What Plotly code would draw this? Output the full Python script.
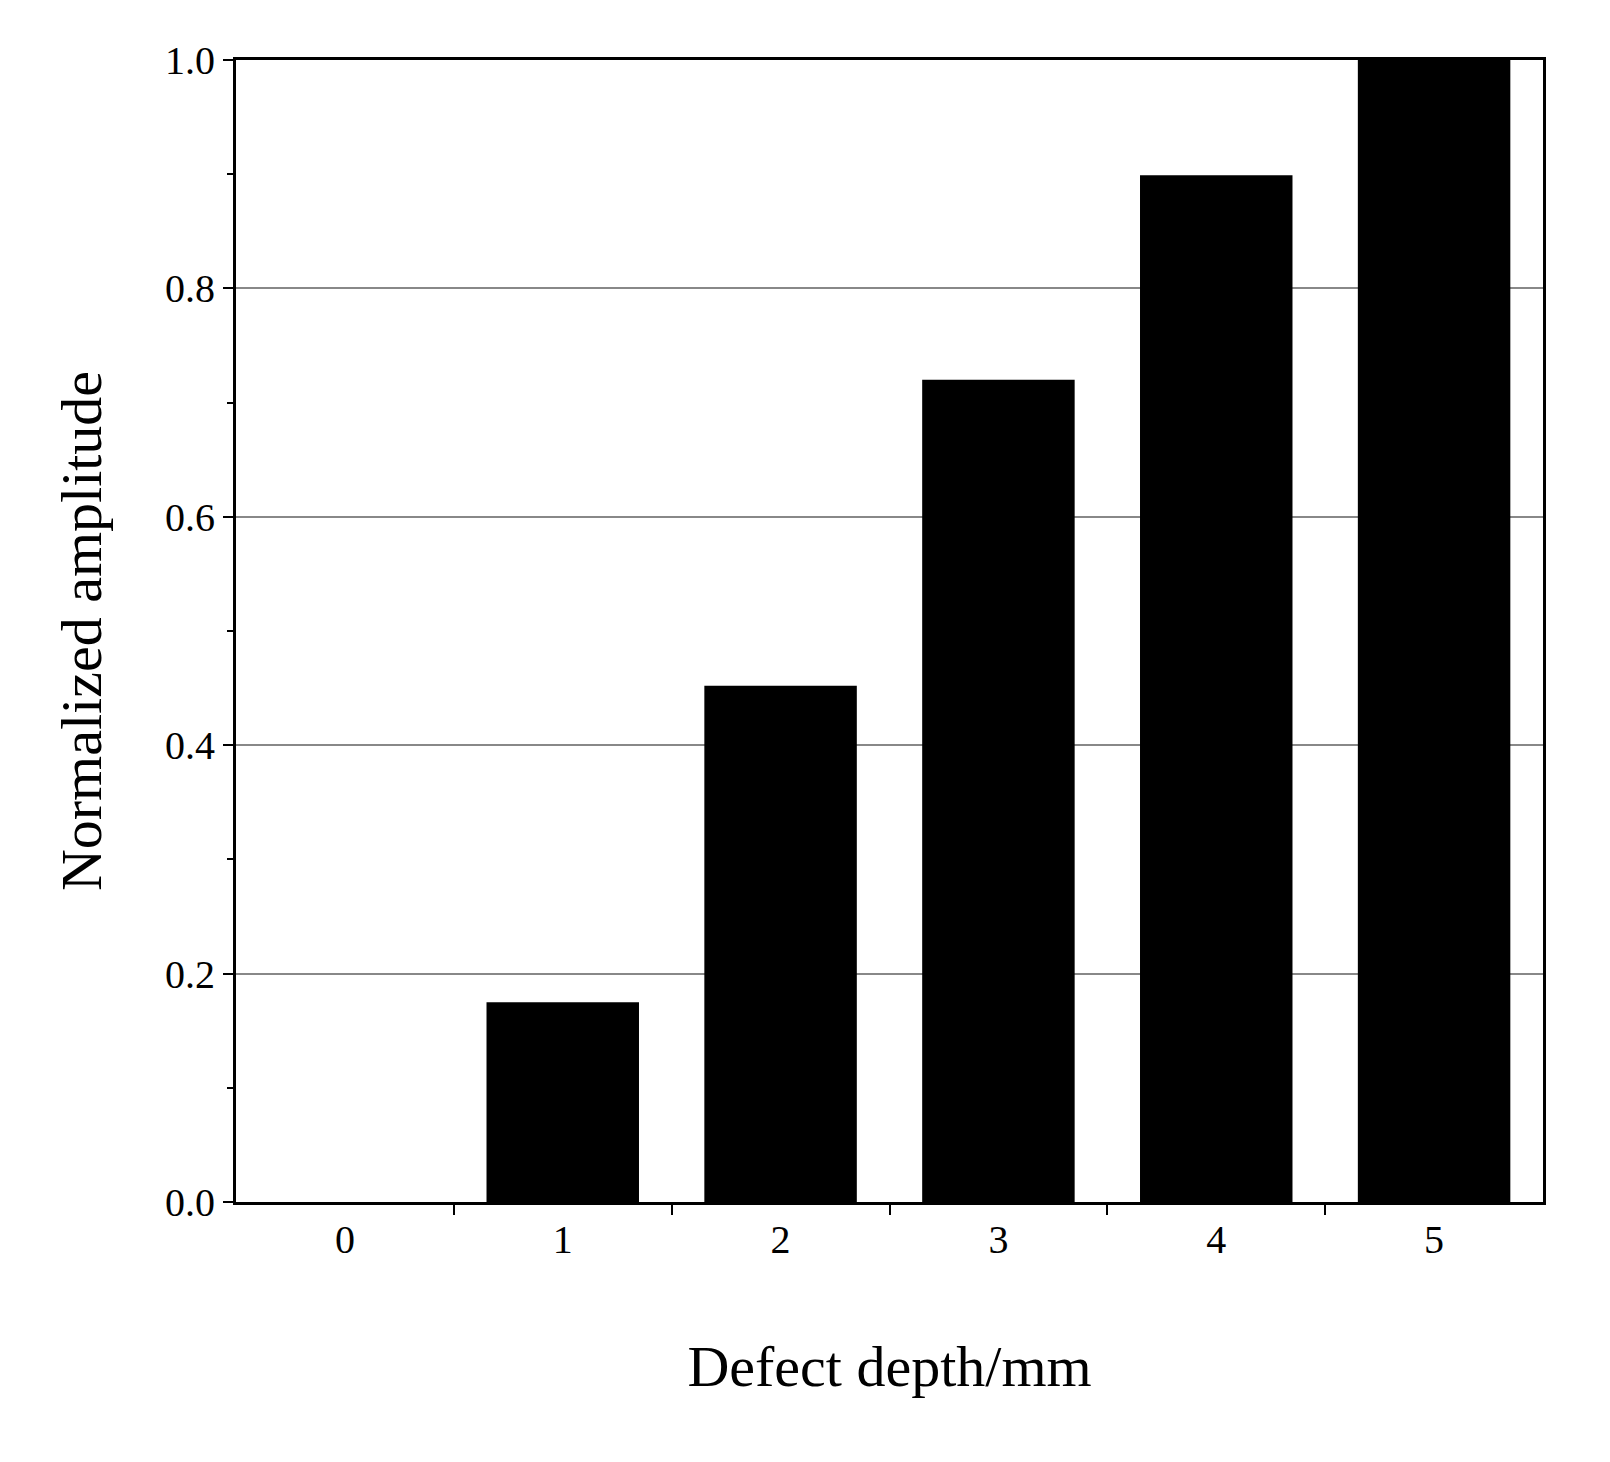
import plotly.graph_objects as go

depths = ["0", "1", "2", "3", "4", "5"]
amplitude = [0.0, 0.175, 0.452, 0.72, 0.899, 1.0]
ytick_vals = [0.0, 0.2, 0.4, 0.6, 0.8, 1.0]
ytick_text = ["0.0", "0.2", "0.4", "0.6", "0.8", "1.0"]

fig = go.Figure(go.Bar(x=[0, 1, 2, 3, 4, 5], y=amplitude, width=0.7,
                       marker=dict(color="black", line=dict(width=0))))
font = "Liberation Serif"
fig.update_layout(
    width=1610, height=1462, paper_bgcolor="white", plot_bgcolor="white",
    margin=dict(l=228, r=75, t=52, b=268), showlegend=False,
    font=dict(family=font, color="black"),
)
fig.update_xaxes(
    range=[-0.5, 5.5], tickvals=[0, 1, 2, 3, 4, 5], ticktext=depths,
    ticks="", showgrid=False, showline=True, linecolor="black", linewidth=3, mirror=True,
    tickfont=dict(size=40, family=font),
    minor=dict(tickvals=[0.5, 1.5, 2.5, 3.5, 4.5], ticks="outside", ticklen=10, tickcolor="black", tickwidth=2),
    title=dict(text="Defect depth/mm", font=dict(size=58, family=font), standoff=85),
)
fig.update_yaxes(
    range=[0, 1.0], tickvals=ytick_vals, ticktext=ytick_text,
    ticks="outside", ticklen=10, tickwidth=2, tickcolor="black",
    showgrid=True, gridcolor="#888888", gridwidth=2,
    showline=True, linecolor="black", linewidth=3, mirror=True,
    tickfont=dict(size=40, family=font),
    minor=dict(dtick=0.1, ticks="outside", ticklen=6, tickcolor="black", tickwidth=2, showgrid=False),
    title=dict(text="Normalized amplitude", font=dict(size=58, family=font), standoff=45),
)
fig.write_html("out.html")
